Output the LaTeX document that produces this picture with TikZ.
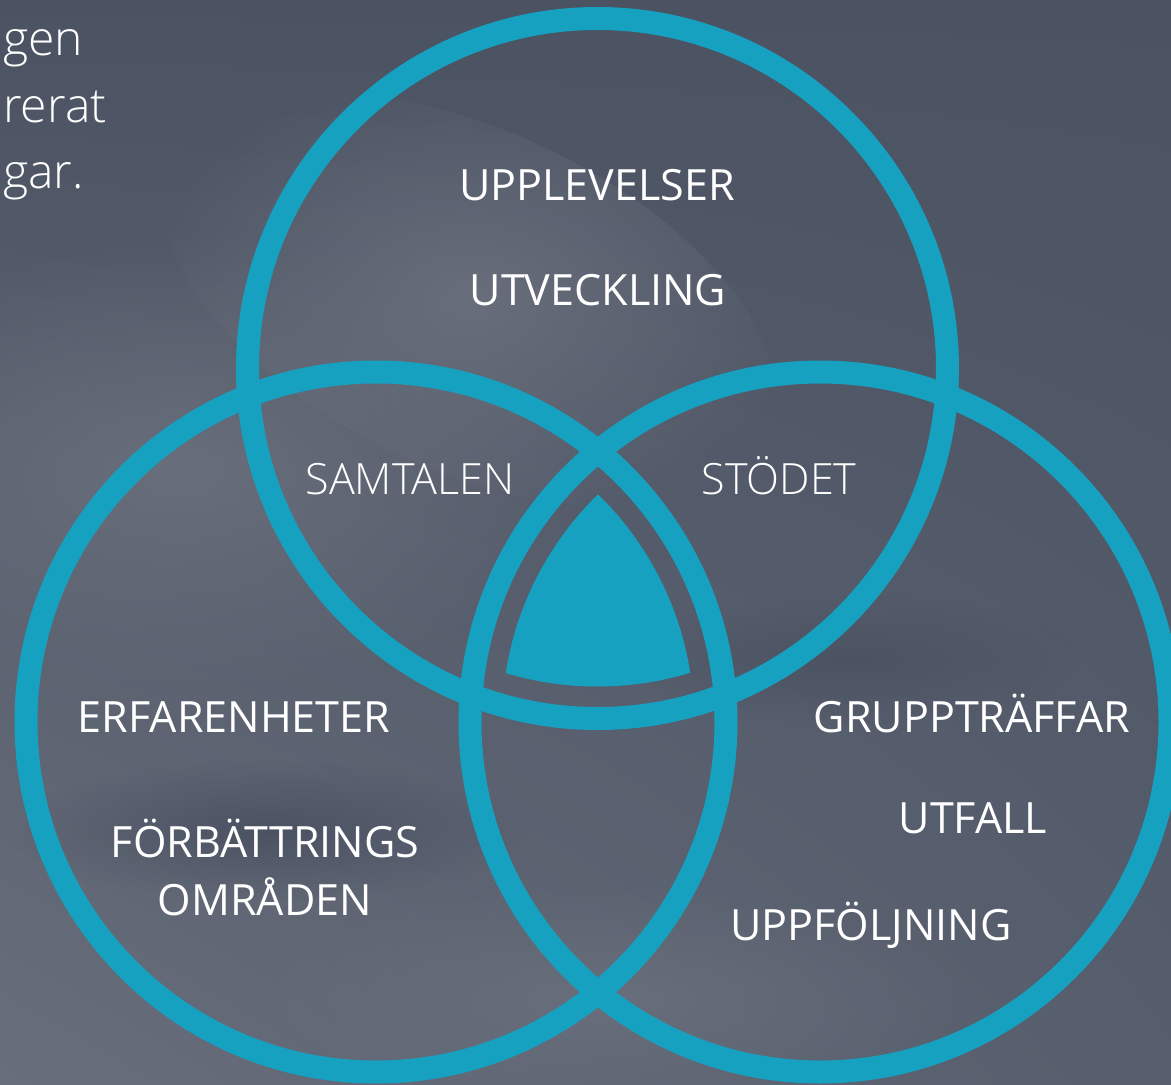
\documentclass[tikz,border=0pt]{standalone}
\usepackage{fontspec}
\setmainfont{Open Sans}
\newfontfamily\lightfont{Open Sans Light}
\usetikzlibrary{fadings,shadings}
\definecolor{ringblue}{HTML}{16A1C1}
\definecolor{bgdark}{HTML}{4B5262}
\definecolor{bgmid}{HTML}{565D6C}
\definecolor{bglight}{HTML}{686E7B}
\tikzfading[name=softblob,inner color=transparent!0,outer color=transparent!100]

\begin{document}
\begin{tikzpicture}[x=0.75pt,y=-0.75pt,
  ring/.style={draw=ringblue,line width=17.25pt},
  blob/.style={path fading=softblob},
  lbl/.style={text=white,anchor=base,inner sep=0pt,font=\fontsize{32.3}{38}\selectfont},
  thin/.style={text=white,anchor=base,inner sep=0pt,font=\lightfont\fontsize{32.3}{38}\selectfont},
  side/.style={text=white,anchor=base west,inner sep=0pt,font=\lightfont\fontsize{36}{44}\selectfont}]
\useasboundingbox (0,0) rectangle (1171,1085);
\clip (0,0) rectangle (1171,1085);
% background
\shade[upper left=bgdark,upper right=bgdark,lower left=bglight,lower right=bgmid] (0,0) rectangle (1171,1085);
\fill[bglight,blob] (180,470) ellipse[x radius=420,y radius=230];
\fill[bglight,blob,rotate around={-25:(470,300)}] (470,300) ellipse[x radius=330,y radius=170];
\fill[bgdark,blob] (270,830) ellipse[x radius=260,y radius=70];
\fill[bgdark,blob] (850,660) ellipse[x radius=230,y radius=65];
\fill[bglight,blob] (600,1000) ellipse[x radius=380,y radius=120];

% text at the left edge
\node[side] (gen) at (3,55) {gen};
\node[side] (rerat) at (3,122) {rerat};
\node[side] (gar) at (3,188) {gar.};

% venn circles
\coordinate (ct) at (597.5,368.5);
\coordinate (cl) at (376,722);
\coordinate (cr) at (820,722);
\begin{scope}
\clip (ct) circle[radius=318];
\clip (cl) circle[radius=318];
\fill[ringblue] (cr) circle[radius=318];
\end{scope}
\foreach \c in {ct,cl,cr}
  \draw[ring] (\c) circle[radius=350];

% labels
\node[lbl] (upplev) at (597,200) {UPPLEVELSER};
\node[lbl] (utveck) at (598,305) {UTVECKLING};
\node[thin] (samtal) at (410,494) {SAMTALEN};
\node[thin] (stodet) at (779,494) {STÖDET};
\node[lbl] (erfar) at (234,732) {ERFARENHETER};
\node[lbl] (forbat) at (265,857) {FÖRBÄTTRINGS};
\node[lbl] (omrad) at (265,915) {OMRÅDEN};
\node[lbl] (grupp) at (972,732) {GRUPPTRÄFFAR};
\node[lbl] (utfall) at (973,833) {UTFALL};
\node[lbl] (uppfol) at (871,940) {UPPFÖLJNING};
\end{tikzpicture}
\end{document}
